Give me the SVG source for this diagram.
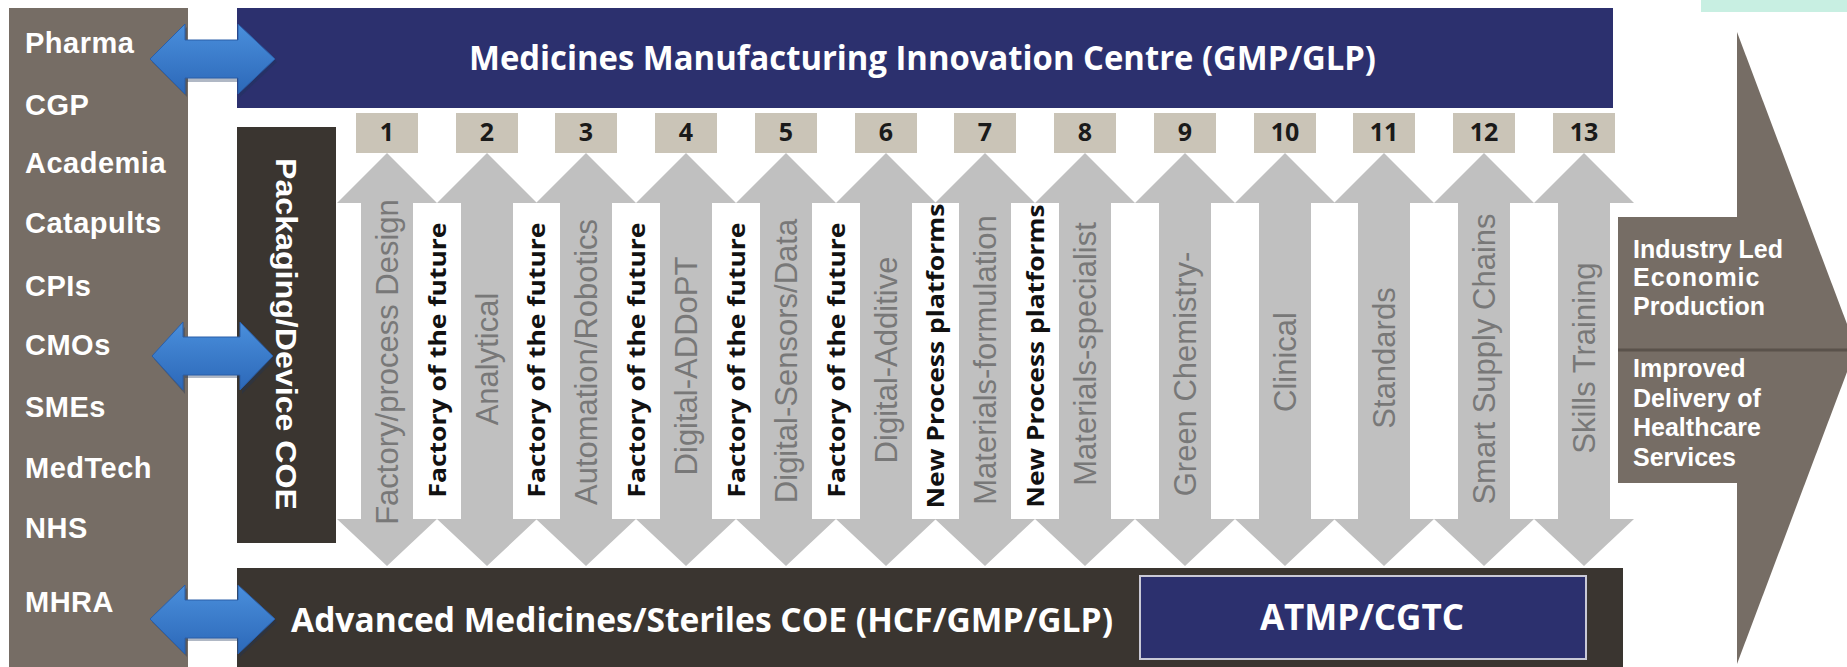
<svg xmlns="http://www.w3.org/2000/svg" width="1847" height="667" viewBox="0 0 1847 667">
<defs>
<linearGradient id="blueg" x1="0" y1="0" x2="0" y2="1">
<stop offset="0" stop-color="#4a8fdc"/>
<stop offset="1" stop-color="#2c68b8"/>
</linearGradient>
<style>
.lbl{font-family:"Liberation Sans",Arial,sans-serif;font-weight:bold;font-size:29px;fill:#ffffff;letter-spacing:0.5px}
.hdr{font-family:"Open Sans","Liberation Sans",sans-serif;font-weight:bold;fill:#ffffff}
.num{font-family:"Open Sans","Liberation Sans",sans-serif;font-weight:bold;font-size:25px;fill:#1a1a1a;text-anchor:middle}
.gtx{font-family:"Liberation Sans",Arial,sans-serif;font-size:31px;fill:#787878;text-anchor:middle;dominant-baseline:central}
.btx{font-family:"Open Sans","Liberation Sans",sans-serif;font-weight:bold;font-size:23px;fill:#111111;text-anchor:middle;dominant-baseline:central}
.out{font-family:"Liberation Sans",Arial,sans-serif;font-weight:bold;font-size:25px;fill:#ffffff}
.nbox{fill:#cac4b7}
.garrow{fill:#c0c0c0}
.wbox{fill:#ffffff}
.barrow{fill:url(#blueg);stroke:#2a5ea8;stroke-width:1}
.bshadow{fill:#1c3558;opacity:0.35}
</style>
</defs>
<rect width="1847" height="667" fill="#ffffff"/>
<rect x="1701" y="0" width="146" height="12" fill="#c8efe2"/>

<g id="stakeholders">
<rect x="9" y="8" width="179" height="659" fill="#766d65"/>
<text class="lbl" x="25" y="53">Pharma</text>
<text class="lbl" x="25" y="115">CGP</text>
<text class="lbl" x="25" y="173">Academia</text>
<text class="lbl" x="25" y="233">Catapults</text>
<text class="lbl" x="25" y="296">CPIs</text>
<text class="lbl" x="25" y="355">CMOs</text>
<text class="lbl" x="25" y="417">SMEs</text>
<text class="lbl" x="25" y="478">MedTech</text>
<text class="lbl" x="25" y="538">NHS</text>
<text class="lbl" x="25" y="612">MHRA</text>
</g>

<g id="mmic">
<rect x="237" y="8" width="1376" height="100" fill="#2c306e"/>
<text class="hdr" x="469" y="70" font-size="34" textLength="907" lengthAdjust="spacingAndGlyphs">Medicines Manufacturing Innovation Centre (GMP/GLP)</text>
</g>

<g id="packaging">
<rect x="237" y="127" width="99" height="416" fill="#3a3530"/>
<text x="286" y="334" transform="rotate(90 286 334)" font-family="Liberation Sans, Arial, sans-serif" font-weight="bold" font-size="30" fill="#ffffff" text-anchor="middle" dominant-baseline="central" textLength="352" lengthAdjust="spacingAndGlyphs">Packaging/Device  COE</text>
</g>

<g id="advanced">
<rect x="237" y="568" width="1386" height="99" fill="#3a3530"/>
<text class="hdr" x="291" y="632" font-size="34" textLength="822" lengthAdjust="spacingAndGlyphs">Advanced Medicines/Steriles COE (HCF/GMP/GLP)</text>
</g>

<g id="atmp">
<rect x="1140" y="576" width="446" height="83" fill="#2c306e" stroke="#c9c9d6" stroke-width="2"/>
<text class="hdr" x="1362" y="630" font-size="35" text-anchor="middle">ATMP/CGTC</text>
</g>

<g id="outcome">
<polygon points="1737,32 1856,348 1737,664" fill="#766d65"/>
<rect x="1618" y="217" width="120" height="266" fill="#766d65"/>
<line x1="1618" y1="350" x2="1847" y2="350" stroke="#5a524b" stroke-width="3"/>
<text class="out" x="1633" y="258">Industry Led</text>
<text class="out" x="1633" y="286" letter-spacing="1">Economic</text>
<text class="out" x="1633" y="315">Production</text>
<text class="out" x="1633" y="377">Improved</text>
<text class="out" x="1633" y="407">Delivery of</text>
<text class="out" x="1633" y="436">Healthcare</text>
<text class="out" x="1633" y="466">Services</text>
</g>

<g id="connectors">
<polygon class="bshadow" points="152,62 187,27 187,44 240,44 240,27 277,62 240,97 240,82 187,82 187,97"/>
<polygon class="barrow" points="150,59 185,24 185,40 238,40 238,24 275,59 238,94 238,78 185,78 185,94"/>
<polygon class="bshadow" points="154,359 185,327 185,340 242,340 242,327 275,359 242,394 242,378 185,378 185,394"/>
<polygon class="barrow" points="152,356 183,322 183,337 240,337 240,322 273,356 240,390 240,375 183,375 183,390"/>
<polygon class="bshadow" points="152,622 187,588 187,603 240,603 240,588 277,622 240,657 240,641 187,641 187,657"/>
<polygon class="barrow" points="150,619 185,585 185,600 238,600 238,585 275,619 238,654 238,638 185,638 185,654"/>
<g id="theme-arrows">
<polygon class="garrow" points="387,153 437,203 413,203 413,519 437,519 387,566 337,519 361,519 361,203 337,203"/>
<polygon class="garrow" points="487,153 537,203 513,203 513,519 537,519 487,566 437,519 461,519 461,203 437,203"/>
<polygon class="garrow" points="586,153 636,203 612,203 612,519 636,519 586,566 536,519 560,519 560,203 536,203"/>
<polygon class="garrow" points="686,153 736,203 712,203 712,519 736,519 686,566 636,519 660,519 660,203 636,203"/>
<polygon class="garrow" points="786,153 836,203 812,203 812,519 836,519 786,566 736,519 760,519 760,203 736,203"/>
<polygon class="garrow" points="886,153 936,203 912,203 912,519 936,519 886,566 836,519 860,519 860,203 836,203"/>
<polygon class="garrow" points="985,153 1035,203 1011,203 1011,519 1035,519 985,566 935,519 959,519 959,203 935,203"/>
<polygon class="garrow" points="1085,153 1135,203 1111,203 1111,519 1135,519 1085,566 1035,519 1059,519 1059,203 1035,203"/>
<polygon class="garrow" points="1185,153 1235,203 1211,203 1211,519 1235,519 1185,566 1135,519 1159,519 1159,203 1135,203"/>
<polygon class="garrow" points="1285,153 1335,203 1311,203 1311,519 1335,519 1285,566 1235,519 1259,519 1259,203 1235,203"/>
<polygon class="garrow" points="1384,153 1434,203 1410,203 1410,519 1434,519 1384,566 1334,519 1358,519 1358,203 1334,203"/>
<polygon class="garrow" points="1484,153 1534,203 1510,203 1510,519 1534,519 1484,566 1434,519 1458,519 1458,203 1434,203"/>
<polygon class="garrow" points="1584,153 1634,203 1610,203 1610,519 1634,519 1584,566 1534,519 1558,519 1558,203 1534,203"/>
</g>
</g>

<g id="gaps">
<rect class="wbox" x="413" y="204" width="48" height="312"/>
<rect class="wbox" x="513" y="204" width="47" height="312"/>
<rect class="wbox" x="612" y="204" width="48" height="312"/>
<rect class="wbox" x="712" y="204" width="48" height="312"/>
<rect class="wbox" x="812" y="204" width="48" height="312"/>
<rect class="wbox" x="912" y="204" width="47" height="312"/>
<rect class="wbox" x="1011" y="204" width="48" height="312"/>
<rect class="wbox" x="1111" y="204" width="48" height="312"/>
<rect class="wbox" x="1211" y="204" width="48" height="312"/>
<rect class="wbox" x="1311" y="204" width="47" height="312"/>
<rect class="wbox" x="1410" y="204" width="48" height="312"/>
<rect class="wbox" x="1510" y="204" width="48" height="312"/>
<text class="btx" transform="translate(437,360) rotate(-90)" textLength="275" lengthAdjust="spacingAndGlyphs">Factory of the future</text>
<text class="btx" transform="translate(536,360) rotate(-90)" textLength="275" lengthAdjust="spacingAndGlyphs">Factory of the future</text>
<text class="btx" transform="translate(636,360) rotate(-90)" textLength="275" lengthAdjust="spacingAndGlyphs">Factory of the future</text>
<text class="btx" transform="translate(736,360) rotate(-90)" textLength="275" lengthAdjust="spacingAndGlyphs">Factory of the future</text>
<text class="btx" transform="translate(836,360) rotate(-90)" textLength="275" lengthAdjust="spacingAndGlyphs">Factory of the future</text>
<text class="btx" transform="translate(935,356) rotate(-90)" textLength="305" lengthAdjust="spacingAndGlyphs">New Process platforms</text>
<text class="btx" transform="translate(1035,356) rotate(-90)" textLength="303" lengthAdjust="spacingAndGlyphs">New Process platforms</text>
</g>

<g id="themes">
<text class="gtx" transform="translate(387,362) rotate(-90)">Factory/process Design</text>
<text class="gtx" transform="translate(487,359) rotate(-90)">Analytical</text>
<text class="gtx" transform="translate(586,362) rotate(-90)">Automation/Robotics</text>
<text class="gtx" transform="translate(686,366) rotate(-90)">Digital-ADDoPT</text>
<text class="gtx" transform="translate(786,361) rotate(-90)">Digital-Sensors/Data</text>
<text class="gtx" transform="translate(886,360) rotate(-90)">Digital-Additive</text>
<text class="gtx" transform="translate(985,360) rotate(-90)">Materials-formulation</text>
<text class="gtx" transform="translate(1085,354) rotate(-90)">Materials-specialist</text>
<text class="gtx" transform="translate(1185,374) rotate(-90)">Green Chemistry-</text>
<text class="gtx" transform="translate(1285,362) rotate(-90)">Clinical</text>
<text class="gtx" transform="translate(1384,358) rotate(-90)">Standards</text>
<text class="gtx" transform="translate(1484,359) rotate(-90)">Smart Supply Chains</text>
<text class="gtx" transform="translate(1584,358) rotate(-90)">Skills Training</text>
</g>

<g id="numbers">
<rect class="nbox" x="356" y="113" width="62" height="40"/><text class="num" x="387" y="141">1</text>
<rect class="nbox" x="456" y="113" width="62" height="40"/><text class="num" x="487" y="141">2</text>
<rect class="nbox" x="555" y="113" width="62" height="40"/><text class="num" x="586" y="141">3</text>
<rect class="nbox" x="655" y="113" width="62" height="40"/><text class="num" x="686" y="141">4</text>
<rect class="nbox" x="755" y="113" width="62" height="40"/><text class="num" x="786" y="141">5</text>
<rect class="nbox" x="855" y="113" width="62" height="40"/><text class="num" x="886" y="141">6</text>
<rect class="nbox" x="954" y="113" width="62" height="40"/><text class="num" x="985" y="141">7</text>
<rect class="nbox" x="1054" y="113" width="62" height="40"/><text class="num" x="1085" y="141">8</text>
<rect class="nbox" x="1154" y="113" width="62" height="40"/><text class="num" x="1185" y="141">9</text>
<rect class="nbox" x="1254" y="113" width="62" height="40"/><text class="num" x="1285" y="141">10</text>
<rect class="nbox" x="1353" y="113" width="62" height="40"/><text class="num" x="1384" y="141">11</text>
<rect class="nbox" x="1453" y="113" width="62" height="40"/><text class="num" x="1484" y="141">12</text>
<rect class="nbox" x="1553" y="113" width="62" height="40"/><text class="num" x="1584" y="141">13</text>
</g>
</svg>
